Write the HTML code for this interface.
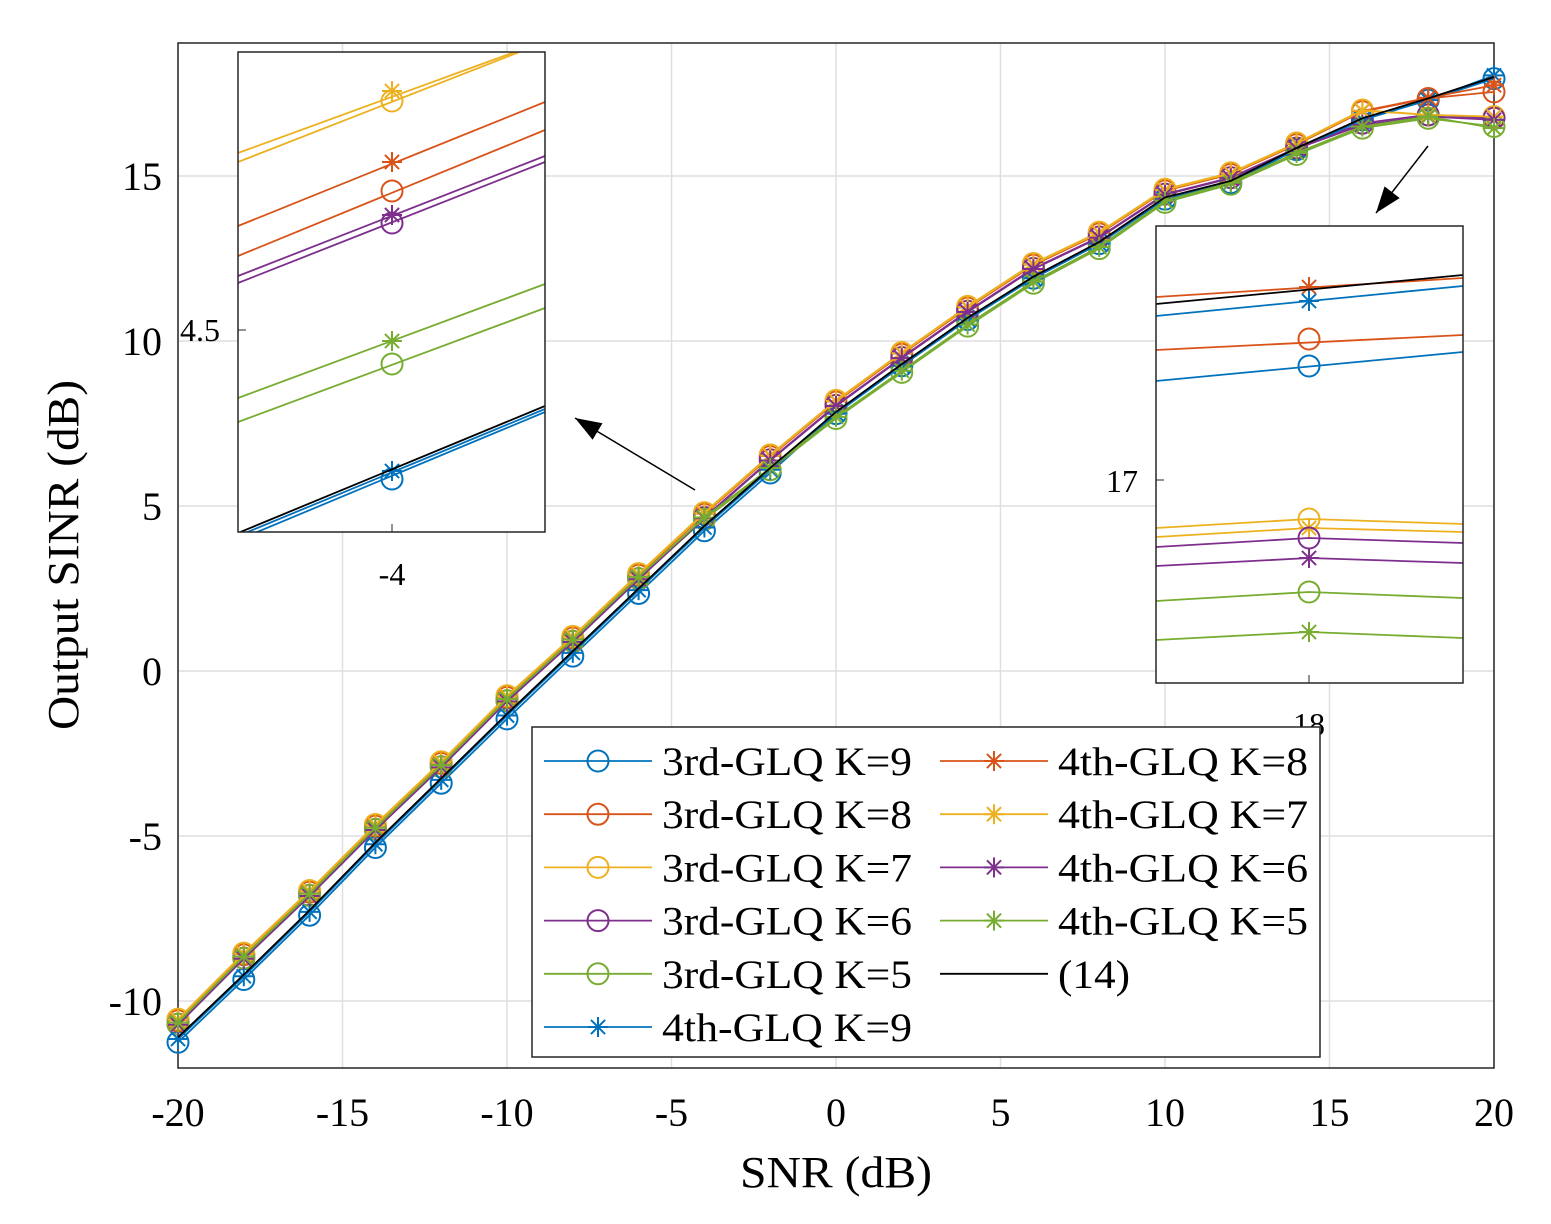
<!DOCTYPE html>
<html><head><meta charset="utf-8"><style>body{margin:0;background:#fff}svg{display:block}text{font-family:"Liberation Serif",serif;fill:#000}</style></head>
<body>
<svg id="s" width="1551" height="1224" xmlns="http://www.w3.org/2000/svg"></svg>
<script>
const S=document.getElementById('s');let h='';
const X=v=>178+(v+20)*32.9, Y=v=>671-v*33;
const C={b:'#0072BD',r:'#D95319',o:'#EDB120',p:'#7E2F8E',g:'#77AC30',k:'#000'};
h+='<rect x="178" y="43" width="1316" height="1025" fill="#fff"/>';
for(let v=-20;v<=20;v+=5){h+=`<line x1="${X(v)}" y1="43" x2="${X(v)}" y2="1068" stroke="#dfdfdf" stroke-width="1.5"/>`;
h+=`<text x="${X(v)}" y="1126" font-size="40" text-anchor="middle">${v}</text>`;}
for(let v=-10;v<=15;v+=5){h+=`<line x1="178" y1="${Y(v)}" x2="1494" y2="${Y(v)}" stroke="#dfdfdf" stroke-width="1.5"/>`;
h+=`<text x="162" y="${Y(v)+14}" font-size="40" text-anchor="end">${v}</text>`;}
h+='<rect x="178" y="43" width="1316" height="1025" fill="none" stroke="#262626" stroke-width="1.5"/>';
h+='<text x="836" y="1187" font-size="44" text-anchor="middle" textLength="192" lengthAdjust="spacingAndGlyphs">SNR (dB)</text>';
h+='<text transform="translate(78,555) rotate(-90)" font-size="44" text-anchor="middle" textLength="350" lengthAdjust="spacingAndGlyphs">Output SINR (dB)</text>';
const base=[-10.6,-8.6,-6.7,-4.7,-2.8,-0.8,1.0,2.9,4.75,6.5,8.15,9.6,11.0,12.3,13.25,14.55,15.05,15.95,16.95,17.35,17.6];
const blk=[-11.1,-9.2,-7.25,-5.2,-3.25,-1.3,0.6,2.5,4.4,6.15,7.85,9.3,10.7,11.95,13.0,14.35,14.85,15.85,16.75,17.35,18.0];
const grn=[-10.7,-8.7,-6.8,-4.8,-2.9,-0.9,0.9,2.8,4.6,6.1,7.65,9.05,10.45,11.75,12.8,14.2,14.75,15.65,16.45,16.75,16.5];
function mk(a,f){return a.map((v,i)=>f(v,i));}
const ser=[
['b','o',mk(blk,(v,i)=>i<10?v-0.15:v-0.05).map((v,i)=>i==20?17.95:v)],
['r','o',mk(base,v=>v).map((v,i)=>i==20?17.55:v)],
['o','o',mk(base,(v,i)=>v+0.05).map((v,i)=>i==19?16.85:i==20?16.8:v)],
['p','o',mk(base,v=>v-0.1).map((v,i)=>i==18?16.6:i==19?16.85:i==20?16.75:v)],
['g','o',grn],
['b','*',mk(blk,v=>v-0.05).map((v,i)=>i==20?18.05:v)],
['r','*',mk(base,v=>v+0.02).map((v,i)=>i==20?17.75:v)],
['o','*',mk(base,v=>v+0.03).map((v,i)=>i==19?16.85:i==20?16.8:v)],
['p','*',mk(base,v=>v-0.12).map((v,i)=>i==18?16.55:i==19?16.8:i==20?16.7:v)],
['g','*',mk(grn,v=>v+0.05).map((v,i)=>i==20?16.45:v)],
['k','',blk]];
function marker(t,x,y,c){if(t=='o')return `<circle cx="${x}" cy="${y}" r="10.5" fill="none" stroke="${c}" stroke-width="2"/>`;
if(t=='*'){let s=`<g stroke="${c}" stroke-width="2">`;for(let a=0;a<4;a++){const an=a*Math.PI/4,dx=10*Math.cos(an),dy=10*Math.sin(an);s+=`<line x1="${x-dx}" y1="${y-dy}" x2="${x+dx}" y2="${y+dy}"/>`;}return s+'</g>';}return '';}
for(const [c,t,a] of ser){const pts=a.map((v,i)=>X(-20+2*i).toFixed(1)+','+Y(v).toFixed(1)).join(' ');
h+=`<polyline points="${pts}" fill="none" stroke="${C[c]}" stroke-width="1.8"/>`;
a.forEach((v,i)=>h+=marker(t,X(-20+2*i),Y(v),C[c]));}
function arrow(x1,y1,x2,y2){const an=Math.atan2(y2-y1,x2-x1),L=28,w=0.35;
h+=`<line x1="${x1}" y1="${y1}" x2="${x2}" y2="${y2}" stroke="#000" stroke-width="1.5"/>`;
h+=`<polygon points="${x2},${y2} ${x2-L*Math.cos(an-w)},${y2-L*Math.sin(an-w)} ${x2-L*Math.cos(an+w)},${y2-L*Math.sin(an+w)}" fill="#000"/>`;}
arrow(695,490,575,418);arrow(1428,146,1376,213);
function inset(x0,y0,w,hh,mx,lines){h+=`<svg x="${x0}" y="${y0}" width="${w}" height="${hh}"><rect width="${w}" height="${hh}" fill="#fff"/>`;
for(const [c,t,p,my] of lines){h+=`<polyline points="${p.map(q=>(q[0]-x0)+','+(q[1]-y0)).join(' ')}" fill="none" stroke="${C[c]}" stroke-width="1.8"/>`;if(t)h+=marker(t,mx-x0,my-y0,C[c]);}
h+='</svg>';h+=`<rect x="${x0}" y="${y0}" width="${w}" height="${hh}" fill="none" stroke="#262626" stroke-width="1.5"/>`;}
inset(238,52,307,480,392,[
['o','o',[[238,162],[545,42]],101],['o','*',[[238,153],[545,41]],91],
['r','*',[[238,226],[545,102]],162],['r','o',[[238,256],[545,130]],191],
['p','*',[[238,276],[545,156]],215],['p','o',[[238,283],[545,162]],223],
['g','*',[[238,398],[545,284]],341],['g','o',[[238,422],[545,308]],364],
['b','*',[[238,536],[545,409]],471],['b','o',[[238,540],[545,412]],479],['k','',[[238,533],[545,406]],0]]);
h+='<line x1="238" y1="330" x2="246" y2="330" stroke="#262626"/><line x1="392" y1="532" x2="392" y2="524" stroke="#262626"/>';
h+='<text x="200" y="341" font-size="32" text-anchor="middle">4.5</text><text x="392" y="585" font-size="32" text-anchor="middle">-4</text>';
inset(1156,226,307,457,1309,[
['r','*',[[1156,297],[1463,278]],287],['b','*',[[1156,316],[1463,286]],301],['k','',[[1156,304],[1463,275]],0],
['r','o',[[1156,350],[1463,335]],339],['b','o',[[1156,381],[1463,352]],366],
['o','o',[[1156,528],[1309,519],[1463,524]],519],['o','*',[[1156,537],[1309,528],[1463,532]],528],
['p','o',[[1156,547],[1309,538],[1463,543]],538],['p','*',[[1156,566],[1309,558],[1463,563]],558],
['g','o',[[1156,601],[1309,592],[1463,598]],592],['g','*',[[1156,640],[1309,632],[1463,638]],632]]);
h+='<line x1="1156" y1="480" x2="1164" y2="480" stroke="#262626"/><line x1="1309" y1="683" x2="1309" y2="675" stroke="#262626"/>';
h+='<text x="1122" y="492" font-size="32" text-anchor="middle">17</text><text x="1309" y="735" font-size="32" text-anchor="middle">18</text>';
h+='<rect x="532" y="727" width="788" height="330" fill="#fff" stroke="#262626" stroke-width="1.5"/>';
const leg=[['b','o','3rd-GLQ K=9'],['r','o','3rd-GLQ K=8'],['o','o','3rd-GLQ K=7'],['p','o','3rd-GLQ K=6'],['g','o','3rd-GLQ K=5'],['b','*','4th-GLQ K=9'],
['r','*','4th-GLQ K=8'],['o','*','4th-GLQ K=7'],['p','*','4th-GLQ K=6'],['g','*','4th-GLQ K=5'],['k','','(14)']];
leg.forEach((l,i)=>{const col=i<6?0:1,row=i<6?i:i-6,x=col?940:544,y=761+row*53.2;
h+=`<line x1="${x}" y1="${y}" x2="${x+108}" y2="${y}" stroke="${C[l[0]]}" stroke-width="1.8"/>`+marker(l[1],x+54,y,C[l[0]]);
const tl=l[2]=='(14)'?'textLength="72"':'textLength="250"';
h+=`<text x="${x+118}" y="${y+14}" font-size="40" ${tl} lengthAdjust="spacingAndGlyphs">${l[2]}</text>`;});
S.innerHTML=h;
</script>
</body></html>
